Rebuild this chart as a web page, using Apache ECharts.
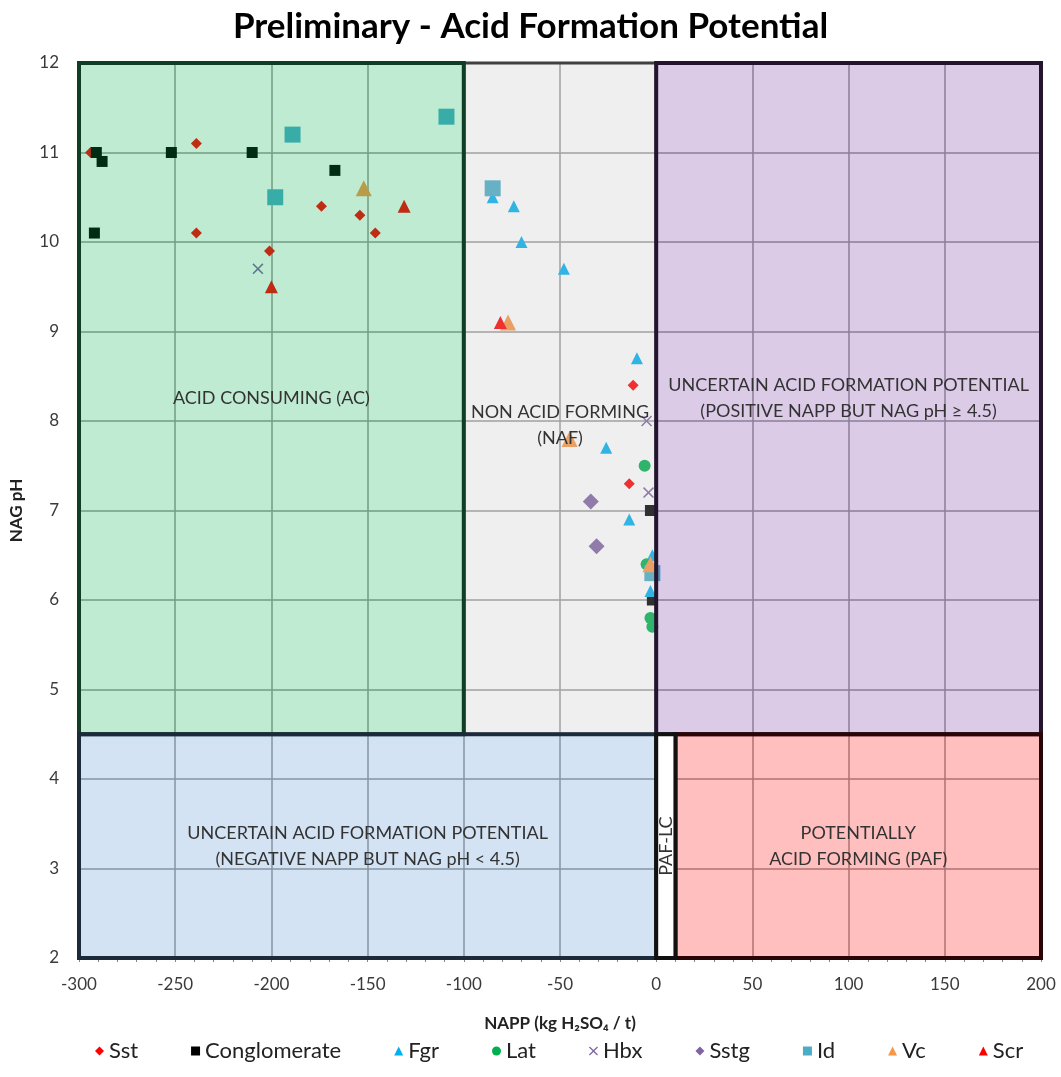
<!DOCTYPE html>
<html>
<head>
<meta charset="utf-8">
<title>Preliminary - Acid Formation Potential</title>
<script src="https://cdn.jsdelivr.net/npm/echarts@6/dist/echarts.min.js"></script>
<style>
html, body { margin: 0; padding: 0; background: #fff; }
#chart { width: 1061px; height: 1077px; }
</style>
</head>
<body>
<div id="chart"></div>
<script>
// sample points: NAPP (x) and NAG pH (y) per lithology
const sstX = [-294, -239, -239, -201, -174, -154, -146, -12, -14];
const sstY = [11.0, 11.1, 10.1, 9.9, 10.4, 10.3, 10.1, 8.4, 7.3];
const conglX = [-291, -288, -252, -210, -167, -292, -3, -2];
const conglY = [11.0, 10.9, 11.0, 11.0, 10.8, 10.1, 7.0, 6.0];
const fgrX = [-85, -74, -70, -48, -10, -26, -14, -2, -3];
const fgrY = [10.5, 10.4, 10.0, 9.7, 8.7, 7.7, 6.9, 6.5, 6.1];
const latX = [-6, -5, -3, -2];
const latY = [7.5, 6.4, 5.8, 5.7];
const hbxX = [-207, -5, -4];
const hbxY = [9.7, 8.0, 7.2];
const sstgX = [-34, -31];
const sstgY = [7.1, 6.6];
const idX = [-189, -198, -109, -85, -2];
const idY = [11.2, 10.5, 11.4, 10.6, 6.3];
const vcX = [-152, -77, -45, -3];
const vcY = [10.6, 9.1, 7.8, 6.4];
const scrX = [-131, -200, -81];
const scrY = [10.4, 9.5, 9.1];

// classification zone limits
const nappMin = -300, nappMax = 200, acLimit = -100, lcLimit = 10;
const phMin = 2, phMax = 12, phLimit = 4.5;

const FONT = "Lato, 'Open Sans', sans-serif";
const crossPath = "path://M0,1 L1,0 L5,4 L9,0 L10,1 L6,5 L10,9 L9,10 L5,6 L1,10 L0,9 L4,5 Z";

const zip = (xs, ys) => xs.map((x, i) => [x, ys[i]]);

const groups = [
    { name: "Sst", x: sstX, y: sstY, symbol: "diamond", size: 11, color: "#ff0000" },
    { name: "Conglomerate", x: conglX, y: conglY, symbol: "rect", size: 11, color: "#000000" },
    { name: "Fgr", x: fgrX, y: fgrY, symbol: "triangle", size: 12, color: "#00b0f0" },
    { name: "Lat", x: latX, y: latY, symbol: "circle", size: 12, color: "#00b050" },
    { name: "Hbx", x: hbxX, y: hbxY, symbol: crossPath, size: 11, color: "#8064a2" },
    { name: "Sstg", x: sstgX, y: sstgY, symbol: "diamond", size: 16, color: "#8064a2" },
    { name: "Id", x: idX, y: idY, symbol: "rect", size: 16, color: "#4bacc6" },
    { name: "Vc", x: vcX, y: vcY, symbol: "triangle", size: 16, color: "#f79646" },
    { name: "Scr", x: scrX, y: scrY, symbol: "triangle", size: 13, color: "#ff0000" },
];

const zone = (name, from, to, fill, border, bw, label) => [
    {
        name: name,
        coord: from,
        itemStyle: { color: fill, borderColor: border, borderWidth: bw },
        label: label || {},
    },
    { coord: to },
];

const zones = [
    zone("NON ACID FORMING\n(NAF)", [acLimit, phMax], [0, phLimit],
        "rgba(191,191,191,0.25)", "#404040", 3, { offset: [0, 27] }),
    zone("ACID CONSUMING (AC)", [nappMin, phMax], [acLimit, phLimit],
        "rgba(0,176,80,0.25)", "#123d25", 4),
    zone("UNCERTAIN ACID FORMATION POTENTIAL\n(POSITIVE NAPP BUT NAG pH \u2265 4.5)", [0, phMax], [nappMax, phLimit],
        "rgba(112,48,160,0.25)", "#24142e", 4),
    zone("UNCERTAIN ACID FORMATION POTENTIAL\n(NEGATIVE NAPP BUT NAG pH < 4.5)", [nappMin, phLimit], [0, phMin],
        "rgba(85,142,213,0.25)", "#1c2a3a", 4),
    zone("POTENTIALLY\nACID FORMING (PAF)", [lcLimit, phLimit], [nappMax, phMin],
        "rgba(255,0,0,0.25)", "#2a0505", 4),
    zone("PAF-LC", [0, phLimit], [lcLimit, phMin],
        "#ffffff", "#111111", 4, { rotate: 90 }),
];

const series = groups.map((g) => ({
    name: g.name,
    type: "scatter",
    symbol: g.symbol,
    symbolSize: g.size,
    itemStyle: { color: g.color, opacity: 1 },
    z: 2,
    data: zip(g.x, g.y),
}));

// zones are drawn on top with translucent fills, like the original
series.push({
    name: "zones",
    type: "scatter",
    data: [],
    z: 5,
    silent: true,
    markArea: {
        silent: true,
        z: 10,
        label: {
            show: true,
            position: "inside",
            fontFamily: FONT,
            fontSize: 18,
            lineHeight: 26,
            color: "#333333",
        },
        data: zones,
    },
});

const chart = echarts.init(document.getElementById("chart"));
chart.setOption({
    animation: false,
    title: {
        text: "Preliminary - Acid Formation Potential",
        left: "center",
        top: 4,
        textStyle: { fontFamily: FONT, fontSize: 35, fontWeight: "bold", color: "#000" },
    },
    legend: {
        data: groups.map((g) => g.name),
        bottom: 10,
        left: 90,
        itemWidth: 9,
        itemHeight: 9,
        itemGap: 53,
        textStyle: { fontFamily: FONT, fontSize: 22, color: "#222" },
    },
    grid: { left: 78, right: 20, top: 63, bottom: 119 },
    xAxis: {
        type: "value",
        min: nappMin,
        max: nappMax,
        interval: 50,
        name: "NAPP (kg H\u2082SO\u2084 / t)",
        nameLocation: "middle",
        nameGap: 57,
        nameTextStyle: { fontFamily: FONT, fontSize: 17, fontWeight: "bold", color: "#222" },
        axisLine: { lineStyle: { color: "#868686", width: 1 } },
        axisTick: { show: true, length: 4, lineStyle: { color: "#868686" } },
        minorTick: { show: true, splitNumber: 5, length: 4, lineStyle: { color: "#868686" } },
        axisLabel: { fontFamily: FONT, fontSize: 17, color: "#3a3a3a", margin: 18 },
        splitLine: { show: true, lineStyle: { color: "#969696", width: 1.5 } },
    },
    yAxis: {
        type: "value",
        min: phMin,
        max: phMax,
        interval: 1,
        name: "NAG pH",
        nameLocation: "middle",
        nameRotate: 90,
        nameGap: 54,
        nameTextStyle: { fontFamily: FONT, fontSize: 17, fontWeight: "bold", color: "#222" },
        axisLine: { show: false },
        axisTick: { show: false },
        axisLabel: { fontFamily: FONT, fontSize: 17, color: "#3a3a3a", margin: 20 },
        splitLine: { show: true, lineStyle: { color: "#969696", width: 1.5 } },
    },
    series: series,
});
</script>
</body>
</html>
